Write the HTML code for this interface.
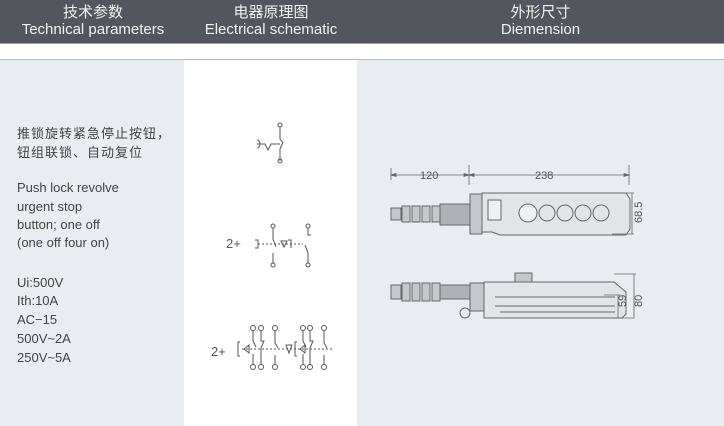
<!DOCTYPE html>
<html><head><meta charset="utf-8"><style>
*{margin:0;padding:0}
body{width:724px;height:425px;overflow:hidden;background:#fff;font-family:"Liberation Sans","Noto Sans CJK SC",sans-serif;position:relative}
.hd{position:absolute;left:0;top:0;width:724px;height:43px;background:#53575d;border-bottom:1px solid #9a9ea3}
.ht{position:absolute;top:4px;color:#f2f2f2;text-align:center;font-size:15px;line-height:17px}
.c1{position:absolute;left:0;top:59px;width:184px;height:366px;background:#e9edf1;border-top:1px solid #b9bcc0}
.c3{position:absolute;left:357px;top:59px;width:367px;height:366px;background:#e9edf1;border-top:1px solid #b9bcc0}
.ln{position:absolute;left:184px;top:59px;width:173px;border-top:1px solid #b9bcc0}
.t{position:absolute;left:17px;color:#444;font-size:13px;white-space:nowrap}
</style></head><body>
<div class="hd"></div>
<div class="ht" style="left:0;width:186px">技术参数<br>Technical parameters</div>
<div class="ht" style="left:185px;width:172px">电器原理图<br>Electrical schematic</div>
<div class="ht" style="left:357px;width:367px">外形尺寸<br>Diemension</div>
<div class="c1"></div><div class="ln"></div><div class="c3"></div>
<div class="t" style="top:123px;letter-spacing:1px">推锁旋转紧急停止按钮，</div>
<div class="t" style="top:142px;letter-spacing:1px">钮组联锁、自动复位</div>
<div class="t" style="top:180px">Push lock revolve</div>
<div class="t" style="top:199px">urgent stop</div>
<div class="t" style="top:217px">button; one off</div>
<div class="t" style="top:235px">(one off four on)</div>
<div class="t" style="top:275px">Ui:500V</div>
<div class="t" style="top:293px">Ith:10A</div>
<div class="t" style="top:312px">AC−15</div>
<div class="t" style="top:331px">500V~2A</div>
<div class="t" style="top:350px">250V~5A</div>
<svg width="724" height="425" style="position:absolute;left:0;top:0" fill="none" stroke="#555" stroke-width="1">
<circle cx="280" cy="125" r="2"/><circle cx="280" cy="161" r="2"/>
<path d="M280 127V139l3 4M280 161v-2V149M280 149l3-7M257 140a3 4 0 0 1 0 8M257 144h8l3 6l3-6h9"/>
<text x="226" y="248" fill="#555" stroke="none" font-size="13">2+</text>
<circle cx="273" cy="226" r="2"/><circle cx="273" cy="265" r="2"/>
<circle cx="308" cy="226" r="2"/><circle cx="308" cy="265" r="2"/>
<path d="M273 228v11l3 8M273 263v-10M308 228v7h3M308 263v-10l-3-8M255 240h3v8h-3" />
<path d="M258 244h45" stroke-dasharray="2 2"/>
<path d="M281 241h6l-3 6zM288 240h3v8"/>
<text x="211" y="356" fill="#555" stroke="none" font-size="13">2+</text>
<g>
<circle cx="253" cy="328" r="2.5"/><circle cx="261" cy="328" r="2.5"/><circle cx="275" cy="328" r="2.5"/>
<circle cx="253" cy="367" r="2.5"/><circle cx="261" cy="367" r="2.5"/><circle cx="275" cy="367" r="2.5"/>
<circle cx="303" cy="328" r="2.5"/><circle cx="310" cy="328" r="2.5"/><circle cx="324" cy="328" r="2.5"/>
<circle cx="303" cy="367" r="2.5"/><circle cx="310" cy="367" r="2.5"/><circle cx="324" cy="367" r="2.5"/>
<path d="M253 331v10l3 6M253 365v-11M261 331v10h3l-3 7v17M275 331v12l3 5M275 365v-10M303 331v10l3 6M303 365v-11M310 331v10h3l-3 7v17M324 331v12l3 5M324 365v-10"/>
<path d="M240 342h-2v14h2M297 342h-2v14h2M244 349l5-4v8zM300 349l5-4v8zM286 345h6l-3 8z"/>
<path d="M242 349h90" stroke-dasharray="2 2"/>
</g>
<g stroke="#666" fill="#c4c8cc">
<rect x="391" y="208" width="10" height="12"/>
<rect x="402" y="206" width="8" height="16"/><rect x="412" y="206" width="8" height="16"/><rect x="422" y="206" width="8" height="16"/><rect x="432" y="206" width="8" height="16"/>
<rect x="440" y="204" width="30" height="21" fill="#aeb2b6"/>
<rect x="470" y="194" width="12" height="40"/>
<path d="M482 193h144l4 6v30l-4 6H500l-8-3h-10z" fill="#e2e5e8"/>
<rect x="488" y="200" width="13" height="20" fill="#eef0f2"/>
<circle cx="528" cy="213" r="9" fill="#eef0f2"/>
<circle cx="547" cy="213" r="8" fill="#e2e5e8"/><circle cx="565" cy="213" r="8" fill="#e2e5e8"/>
<circle cx="583" cy="213" r="8" fill="#e2e5e8"/><circle cx="601" cy="213" r="8" fill="#e2e5e8"/>
</g>
<g stroke="#666" fill="#c4c8cc">
<rect x="391" y="285" width="10" height="14"/>
<rect x="402" y="283" width="8" height="18"/><rect x="412" y="283" width="8" height="18"/><rect x="422" y="283" width="8" height="18"/><rect x="432" y="283" width="8" height="18"/>
<rect x="440" y="285" width="30" height="14" fill="#aeb2b6"/>
<rect x="470" y="283" width="14" height="28"/>
<circle cx="465" cy="313" r="5" fill="none"/>
<rect x="515" y="273" width="17" height="9"/>
<path d="M484 282h130l12 10v22l-4 4H484z" fill="#e2e5e8"/>
<path d="M495 297h120M495 306h120M500 312h115"/>
</g>
<g stroke="#666" stroke-width="0.8">
<path d="M391 168v12M469 165v20M629 165v20M391 175h236"/>
<path d="M391 175l5-1.5v3zM469 175l-5-1.5v3zM469 175l5-1.5v3zM629 175l-5-1.5v3z" fill="#666"/>
<path d="M612 193h22M612 234h22M632 193v41"/>
<path d="M614 274h22M604 295h16M612 318h22M618 295v23M634 274v44"/>
</g>
<g fill="#555" stroke="none" font-size="11">
<text x="420" y="179">120</text><text x="535" y="179">238</text>
<text transform="translate(642,223) rotate(-90)">68.5</text>
<text transform="translate(626,307) rotate(-90)">59</text>
<text transform="translate(642,307) rotate(-90)">80</text>
</g>
</svg>
</body></html>
